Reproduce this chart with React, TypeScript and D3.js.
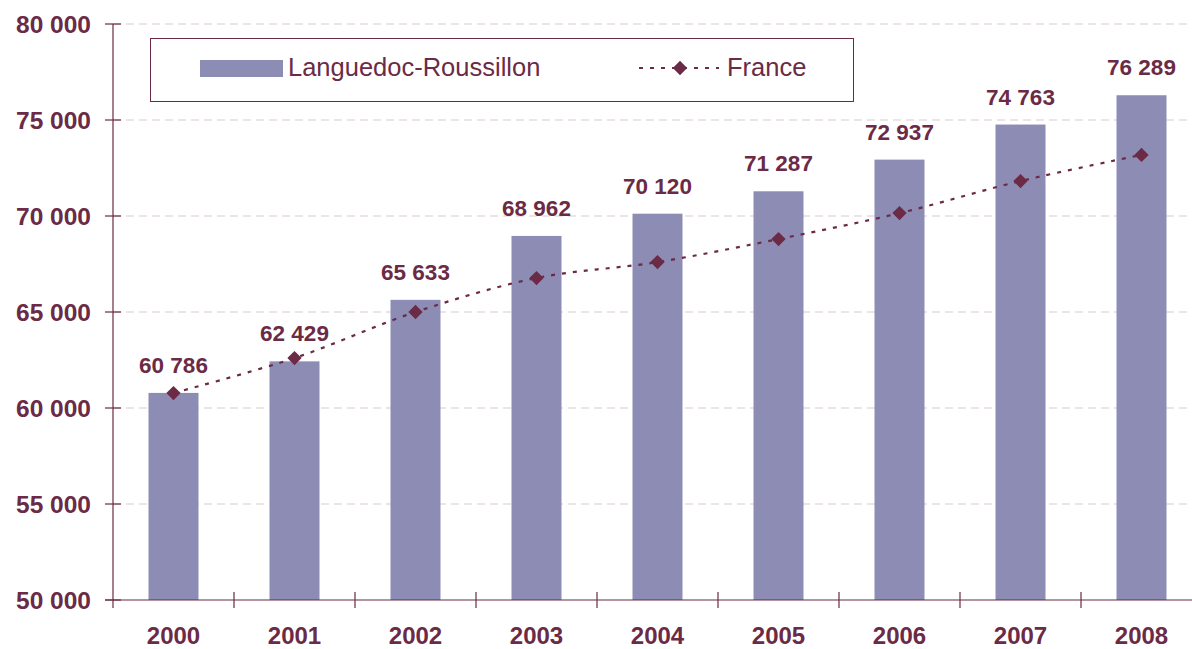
import React, { useRef, useEffect } from 'react';
import * as d3 from 'd3';

const years = ['2000', '2001', '2002', '2003', '2004', '2005', '2006', '2007', '2008'];
const regionValues = [60786, 62429, 65633, 68962, 70120, 71287, 72937, 74763, 76289];
const franceValues = [60780, 62600, 65000, 66770, 67600, 68800, 70150, 71820, 73180];
const yTicks = [50000, 55000, 60000, 65000, 70000, 75000, 80000];

const W = 1192;
const H = 649;
const DARK = '#6B2A45';
const BAR = '#8C8CB4';
const FONT = '"Liberation Sans", Arial, sans-serif';

const fmt = (v: number) => d3.format(',')(v).replace(/,/g, ' ');

export default function App() {
  const svgRef = useRef<SVGSVGElement>(null);

  useEffect(() => {
    if (!svgRef.current) return;
    const svg = d3.select(svgRef.current);
    svg.selectAll('*').remove();

    const left = 113;
    const top = 24;
    const bottom = 600;

    const x = d3.scaleBand<string>()
      .domain(years)
      .range([left, left + 121 * 9])
      .paddingInner(0.587)
      .paddingOuter(0.2935);

    const y = d3.scaleLinear().domain([50000, 80000]).range([bottom, top]);

    // grid
    svg.append('g')
      .selectAll('line')
      .data(yTicks.slice(1))
      .join('line')
      .attr('x1', left)
      .attr('x2', W)
      .attr('y1', d => y(d))
      .attr('y2', d => y(d))
      .attr('stroke', '#d9c9cf')
      .attr('stroke-width', 1)
      .attr('stroke-dasharray', '8,5');

    // bars
    svg.append('g')
      .selectAll('rect')
      .data(regionValues)
      .join('rect')
      .attr('x', (d, i) => x(years[i])!)
      .attr('y', d => y(d))
      .attr('width', x.bandwidth())
      .attr('height', d => bottom - y(d))
      .attr('fill', BAR);

    // axes
    svg.append('line')
      .attr('x1', left).attr('x2', left)
      .attr('y1', top).attr('y2', bottom + 8)
      .attr('stroke', DARK).attr('stroke-width', 1.2);
    svg.append('line')
      .attr('x1', left - 8).attr('x2', W)
      .attr('y1', bottom).attr('y2', bottom)
      .attr('stroke', DARK).attr('stroke-width', 1.2);

    const yAxis = svg.append('g');
    yAxis.selectAll('line')
      .data(yTicks)
      .join('line')
      .attr('x1', left - 8)
      .attr('x2', left + 8)
      .attr('y1', d => y(d))
      .attr('y2', d => y(d))
      .attr('stroke', DARK)
      .attr('stroke-width', 1.2);
    yAxis.selectAll('text')
      .data(yTicks)
      .join('text')
      .attr('x', 91)
      .attr('y', d => y(d))
      .attr('dy', '0.36em')
      .attr('text-anchor', 'end')
      .attr('font-family', FONT)
      .attr('font-weight', 'bold')
      .attr('font-size', 24.5)
      .attr('fill', DARK)
      .text(d => fmt(d));

    const step = x.step();
    const xTicks = d3.range(1, years.length + 1).map(i => left + step * i);
    svg.append('g')
      .selectAll('line')
      .data(xTicks)
      .join('line')
      .attr('x1', d => d)
      .attr('x2', d => d)
      .attr('y1', bottom - 8)
      .attr('y2', bottom + 8)
      .attr('stroke', DARK)
      .attr('stroke-width', 1.2);

    svg.append('g')
      .selectAll('text')
      .data(years)
      .join('text')
      .attr('x', d => x(d)! + x.bandwidth() / 2)
      .attr('y', 643.5)
      .attr('text-anchor', 'middle')
      .attr('font-family', FONT)
      .attr('font-weight', 'bold')
      .attr('font-size', 24)
      .attr('fill', DARK)
      .text(d => d);

    // France line
    const cx = (i: number) => x(years[i])! + x.bandwidth() / 2;
    const line = d3.line<number>()
      .x((d, i) => cx(i))
      .y(d => y(d))
      .curve(d3.curveCatmullRom.alpha(0.5));
    svg.append('path')
      .datum(franceValues)
      .attr('d', line)
      .attr('fill', 'none')
      .attr('stroke', DARK)
      .attr('stroke-width', 2.2)
      .attr('stroke-dasharray', '4,7');

    const diamond = d3.symbol().type(d3.symbolDiamond2).size(130);
    svg.append('g')
      .selectAll('path')
      .data(franceValues)
      .join('path')
      .attr('d', diamond)
      .attr('transform', (d, i) => `translate(${cx(i)},${y(d)})`)
      .attr('fill', DARK);

    // value labels
    svg.append('g')
      .selectAll('text')
      .data(regionValues)
      .join('text')
      .attr('x', (d, i) => cx(i))
      .attr('y', d => y(d) - 20)
      .attr('text-anchor', 'middle')
      .attr('font-family', FONT)
      .attr('font-weight', 'bold')
      .attr('font-size', 22.5)
      .attr('fill', DARK)
      .text(d => fmt(d));

    // legend
    const lg = svg.append('g');
    lg.append('rect')
      .attr('x', 150.5).attr('y', 38.5)
      .attr('width', 703).attr('height', 63)
      .attr('fill', 'white')
      .attr('stroke', DARK).attr('stroke-width', 1);
    lg.append('rect')
      .attr('x', 200).attr('y', 60)
      .attr('width', 83).attr('height', 17)
      .attr('fill', BAR);
    lg.append('text')
      .attr('x', 288).attr('y', 67).attr('dy', '0.36em')
      .attr('font-family', FONT).attr('font-size', 25.5)
      .attr('fill', DARK)
      .text('Languedoc-Roussillon');
    lg.append('line')
      .attr('x1', 639).attr('x2', 719)
      .attr('y1', 68).attr('y2', 68)
      .attr('stroke', DARK).attr('stroke-width', 2.2)
      .attr('stroke-dasharray', '4,7');
    lg.append('path')
      .attr('d', diamond)
      .attr('transform', 'translate(680,68)')
      .attr('fill', DARK);
    lg.append('text')
      .attr('x', 727).attr('y', 67).attr('dy', '0.36em')
      .attr('font-family', FONT).attr('font-size', 25.5)
      .attr('fill', DARK)
      .text('France');
  }, []);

  return (
    <div style={{ position: 'absolute', left: 0, top: 0, width: W, height: H, background: 'white' }}>
      <svg ref={svgRef} width={W} height={H} />
    </div>
  );
}
